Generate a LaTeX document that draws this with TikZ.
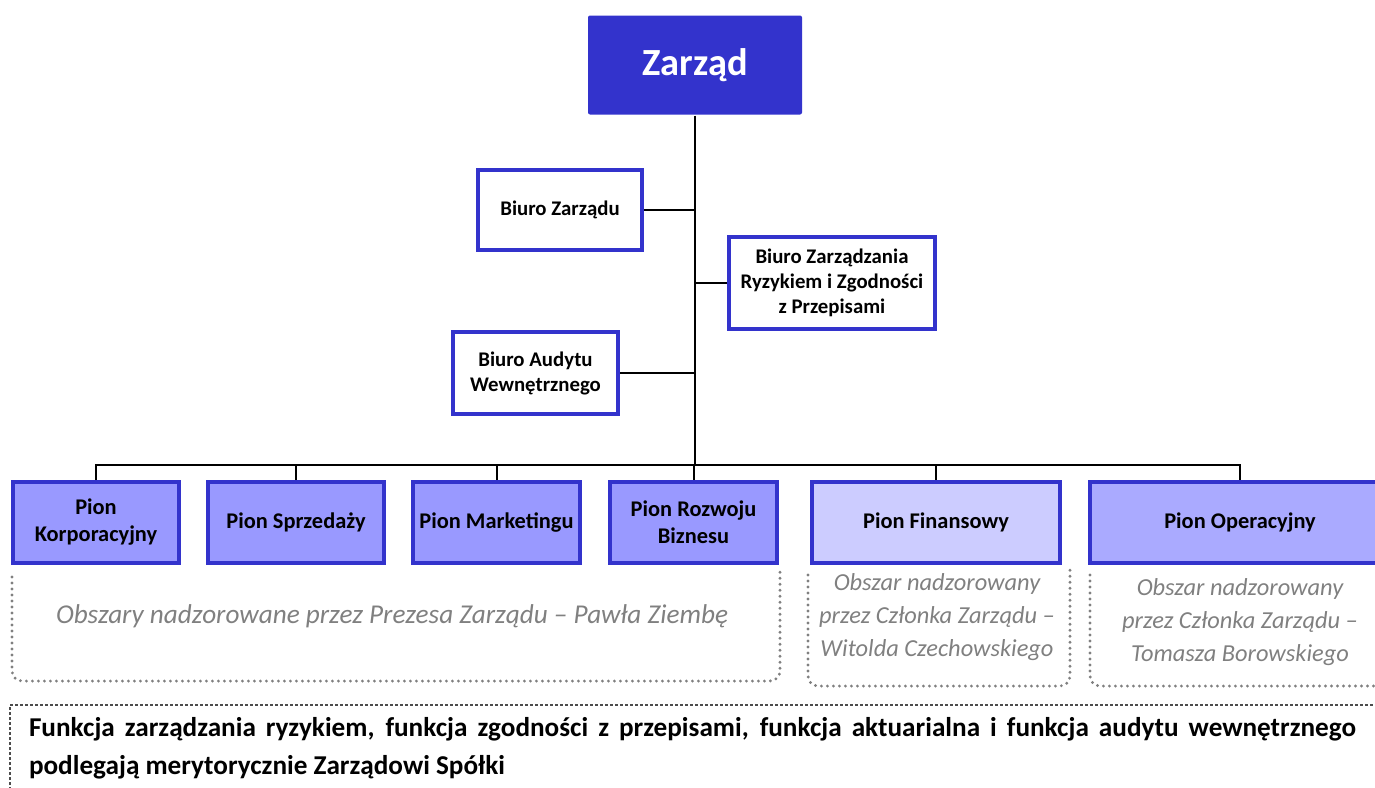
\documentclass[tikz,border=0pt]{standalone}
\usepackage{fontspec}
\setmainfont{Carlito}
\usepackage{tikz}
\usetikzlibrary{positioning}
\definecolor{zblue}{HTML}{3333CC}
\definecolor{pionfill}{HTML}{9999FF}
\definecolor{finfill}{HTML}{CCCCFF}
\definecolor{opfill}{HTML}{AAAAFF}
\definecolor{obgray}{HTML}{808080}

\begin{document}
\begin{tikzpicture}[x=0.5pt,y=-0.5pt,line width=1pt,
                    every node/.style={align=center}]
  \tikzstyle{biuro}=[draw=zblue,line width=2pt,fill=white,inner sep=2pt,
                     font=\bfseries\fontsize{10.4}{12.5}\selectfont]
  \tikzstyle{pion}=[draw=zblue,line width=2pt,fill=pionfill,inner sep=2pt,
                    minimum height=40.5pt,font=\bfseries\fontsize{11.2}{13.5}\selectfont]
  \tikzstyle{obszar}=[obgray,line width=1.6pt,line cap=round,
                      dash pattern=on 0pt off 3pt,rounded corners=5pt]
  \tikzstyle{opis}=[text=obgray,font=\itshape\fontsize{12.2}{16.5}\selectfont]

  \useasboundingbox (0,0) rectangle (1375,787);

  \node[fill=zblue,rounded corners=1pt,minimum width=107pt,minimum height=49.5pt,
        text=white,font=\bfseries\fontsize{19.2}{22}\selectfont] (Z) at (695,65) {Zarząd};

  \node[biuro,minimum width=82pt,minimum height=40pt]   (BZ)  at (560,210)   {Biuro Zarządu};
  \node[biuro,minimum width=103pt,minimum height=46pt]  (BZR) at (832,283)   {Biuro Zarządzania\\Ryzykiem i Zgodności\\z Przepisami};
  \node[biuro,minimum width=82.5pt,minimum height=41pt] (BAW) at (535.5,373) {Biuro Audytu\\Wewnętrznego};

  \node[pion,minimum width=83pt]               (PK) at (96,522.5)    {Pion\\Korporacyjny};
  \node[pion,minimum width=88pt]               (PS) at (296,522.5)   {Pion Sprzedaży};
  \node[pion,minimum width=83.5pt]             (PM) at (496.5,522.5) {Pion Marketingu};
  \node[pion,minimum width=83.5pt]             (PR) at (693.5,522.5) {Pion Rozwoju\\Biznesu};
  \node[pion,minimum width=124pt,fill=finfill] (PF) at (936,522.5)   {Pion Finansowy};
  \node[pion,minimum width=150pt,fill=opfill]  (PO) at (1240,522.5)  {Pion Operacyjny};

  \coordinate (bus) at (695,465);
  \draw (Z.south) -- (bus);
  \draw (BZ.east) -- (BZ.east -| Z.south);
  \draw (BZR.west) -- (BZR.west -| Z.south);
  \draw (BAW.east) -- (BAW.east -| Z.south);
  \foreach \p in {PK,PS,PM,PR,PF,PO}
    \draw (bus) -| (\p.north);

  \draw[obszar] (12,577) -- (12,681) -- (780,681) -- (780,570);
  \draw[obszar] (808,575) -- (808,686) -- (1070,686) -- (1070,570);
  \draw[obszar] (1090,575) -- (1090,686) -- (1380,686);

  \node[opis,font=\itshape\fontsize{13.6}{16.5}\selectfont] (O1) at (392,616)
    {Obszary nadzorowane przez Prezesa Zarządu – Pawła Ziembę};
  \node[opis] (O2) at (937,617)  {Obszar nadzorowany\\przez Członka Zarządu –\\Witolda Czechowskiego};
  \node[opis] (O3) at (1240,622) {Obszar nadzorowany\\przez Członka Zarządu –\\Tomasza Borowskiego};

  \draw[black!70,line width=0.6pt,dash pattern=on 1.5pt off 1pt] (10,800) -- (10,705) -- (1380,705);
  \node[anchor=north west,inner sep=0pt,text width=663.5pt,align=justify,
        font=\bfseries\fontsize{13.6}{19}\selectfont] (F) at (28,716)
    {Funkcja zarządzania ryzykiem, funkcja zgodności z przepisami, funkcja aktuarialna i funkcja audytu wewnętrznego\linebreak{} podlegają merytorycznie Zarządowi Spółki};
\end{tikzpicture}
\end{document}
